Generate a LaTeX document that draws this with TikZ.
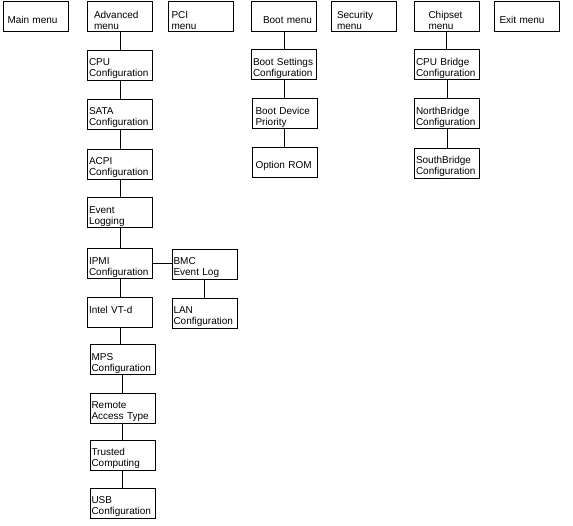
\documentclass[tikz,border=0pt]{standalone}
\usepackage{fontspec}
\setmainfont{Liberation Sans}
\newcommand\menutop{\par\vspace*{4pt}}

\begin{document}
\begin{tikzpicture}[x=1pt,y=-1pt,
        menubox/.style={draw,line width=0.8pt,minimum width=65pt,minimum height=30pt,
            inner xsep=1.5pt,inner ysep=0pt,text width=62pt,align=left,
            font=\fontsize{10}{11}\selectfont,
            execute at begin node=\menutop},
        oneline/.style={execute at begin node=}]
            \useasboundingbox (0,0) rectangle (573,526);

            \node[menubox] (main) at (35.5,16.5) {\hspace*{3pt}Main menu};
            \node[menubox] (adv) at (120,16.5) {\hspace*{5pt}Advanced\\\hspace*{5pt}menu};
            \node[menubox] (pci) at (200.5,16.5) {\hspace*{2pt}PCI\\\hspace*{2pt}menu};
            \node[menubox] (boot) at (284,16.5) {\hspace*{10pt}Boot menu};
            \node[menubox] (sec) at (364,16.5) {\hspace*{4pt}Security\\\hspace*{4pt}menu};
            \node[menubox] (chip) at (446.5,16.5) {\hspace*{13pt}Chipset\\\hspace*{13pt}menu};
            \node[menubox] (exit) at (526.5,16.5) {\hspace*{4pt}Exit menu};

            \node[menubox] (cpu) at (120,65) {CPU\\Configuration};
            \node[menubox] (sata) at (120,114) {SATA\\Configuration};
            \node[menubox] (acpi) at (120,164) {ACPI\\Configuration};
            \node[menubox] (evlog) at (120,212.5) {Event\\Logging};
            \node[menubox] (ipmi) at (120,263.5) {IPMI\\Configuration};
            \node[menubox] (vtd) at (120,312) {Intel VT-d\\\mbox{}};
            \node[menubox] (mps) at (122.5,359.5) {MPS\\Configuration};
            \node[menubox] (remote) at (122.5,408) {Remote\\Access Type};
            \node[menubox] (trusted) at (122.5,455) {Trusted\\Computing};
            \node[menubox] (usb) at (122.5,503) {USB\\Configuration};

            \node[menubox] (bmc) at (204.5,264) {BMC\\Event Log};
            \node[menubox] (lan) at (204.5,313) {LAN\\Configuration};

            \node[menubox] (bootset) at (284,64.5) {Boot Settings\\Configuration};
            \node[menubox] (bootdev) at (284.5,113.5) {\hspace*{2pt}Boot Device\\\hspace*{2pt}Priority};
            \node[menubox,oneline] (optrom) at (284.5,162.5) {\hspace*{2pt}Option ROM};

            \node[menubox] (cpubr) at (447,64.5) {CPU Bridge\\Configuration};
            \node[menubox] (nbr) at (447,113.5) {NorthBridge\\Configuration};
            \node[menubox] (sbr) at (447,163) {SouthBridge\\Configuration};

            \foreach \a/\b in {adv/cpu,cpu/sata,sata/acpi,acpi/evlog,evlog/ipmi,ipmi/vtd,vtd/mps,
                    mps/remote,remote/trusted,trusted/usb,bmc/lan,boot/bootset,bootset/bootdev,
                    bootdev/optrom,chip/cpubr,cpubr/nbr,nbr/sbr}
                \draw[line width=0.8pt] (\a.south) -- (\a.south |- \b.north);
            \draw[line width=0.8pt] (ipmi.east) -- (ipmi.east -| bmc.west);
        \end{tikzpicture}
\end{document}
